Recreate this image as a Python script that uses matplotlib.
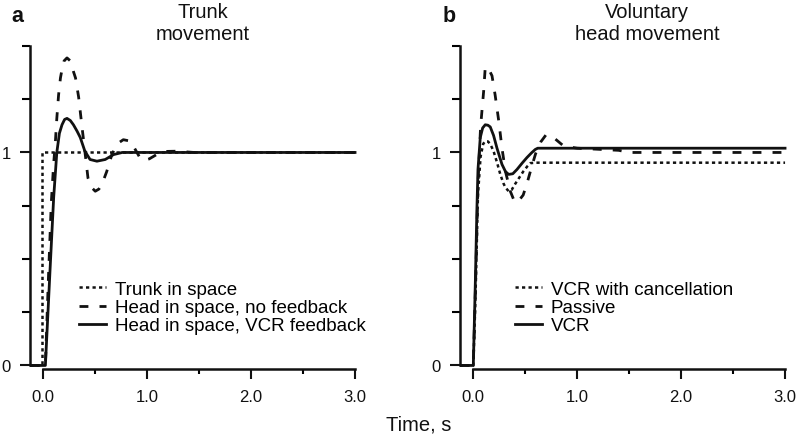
"""
Step response of trunk / head in space - two panel line chart
Output: out.png
"""

import matplotlib
matplotlib.use("Agg")
import matplotlib.pyplot as plt
from matplotlib.ticker import FixedLocator

plt.rcParams["font.family"] = ["Liberation Sans", "DejaVu Sans"]

# Panel a: trunk movement
a_trunk_t = [-0.128, -0.0125, -0.0125, 3.0]
a_trunk_v = [0.0, 0.0, 1.0, 1.0]

a_nofb_t = [-0.128, 0.02, 0.05, 0.077, 0.10, 0.115, 0.13, 0.147, 0.165, 0.18, 0.20,
            0.228, 0.26, 0.29, 0.31, 0.34, 0.37, 0.40, 0.43, 0.468, 0.50, 0.535,
            0.564, 0.61, 0.66, 0.71, 0.77, 0.84, 0.885, 0.93, 0.965, 1.02, 1.09,
            1.19, 1.29, 1.45, 3.0]
a_nofb_v = [0.0, 0.0, 0.42, 0.765, 0.95, 1.04, 1.16, 1.27, 1.35, 1.39, 1.43,
            1.444, 1.43, 1.38, 1.35, 1.26, 1.13, 1.006, 0.88, 0.834, 0.818, 0.828,
            0.85, 0.91, 0.99, 1.04, 1.06, 1.053, 1.014, 0.975, 0.962, 0.97, 0.99,
            1.005, 1.006, 1.0, 1.0]

a_vcr_t = [-0.128, 0.02, 0.065, 0.10, 0.13, 0.155, 0.18, 0.205, 0.228, 0.26, 0.29,
           0.325, 0.356, 0.40, 0.45, 0.516, 0.596, 0.676, 0.76, 3.0]
a_vcr_v = [0.0, 0.0, 0.45, 0.79, 1.0, 1.09, 1.13, 1.155, 1.16, 1.15, 1.13,
           1.10, 1.07, 1.006, 0.967, 0.959, 0.967, 0.99, 1.0, 1.0]

# Panel b: voluntary head movement
b_cancel_t = [-0.128, 0.0, 0.02, 0.045, 0.07, 0.095, 0.115, 0.14, 0.163, 0.195, 0.23,
              0.26, 0.29, 0.31, 0.34, 0.37, 0.40, 0.44, 0.48, 0.52, 0.55, 0.60, 3.0]
b_cancel_v = [0.0, 0.0, 0.3, 0.8, 0.98, 1.04, 1.053, 1.052, 1.04, 1.006, 0.95,
              0.897, 0.855, 0.835, 0.818, 0.825, 0.85, 0.88, 0.91, 0.935, 0.95, 0.952, 0.952]

b_passive_t = [-0.128, 0.0, 0.02, 0.045, 0.07, 0.10, 0.115, 0.14, 0.18, 0.21, 0.245,
               0.276, 0.31, 0.356, 0.40, 0.44, 0.48, 0.52, 0.56, 0.60, 0.65, 0.70,
               0.76, 0.87, 1.0, 1.2, 1.4, 1.5, 3.0]
b_passive_v = [0.0, 0.0, 0.35, 0.85, 1.12, 1.29, 1.40, 1.40, 1.36, 1.27, 1.147,
               1.02, 0.91, 0.818, 0.765, 0.775, 0.80, 0.86, 0.93, 0.995, 1.05, 1.083,
               1.075, 1.03, 1.02, 1.015, 1.01, 1.0, 1.0]

b_vcr_t = [-0.128, 0.0, 0.02, 0.035, 0.045, 0.067, 0.09, 0.115, 0.14, 0.163, 0.195,
           0.228, 0.276, 0.31, 0.34, 0.38, 0.42, 0.47, 0.516, 0.56, 0.596, 0.62, 3.0]
b_vcr_v = [0.0, 0.0, 0.4, 0.74, 0.92, 1.07, 1.115, 1.13, 1.128, 1.12, 1.08,
           1.02, 0.944, 0.91, 0.897, 0.9, 0.92, 0.95, 0.976, 0.998, 1.014, 1.02, 1.02]

x_major = [0.0, 1.0, 2.0, 3.0]
x_minor = [0.5, 1.5, 2.5]
y_major = [0, 1]
y_minor = [0.25, 0.5, 0.75, 1.25, 1.5]

a_labels = ["Trunk in space", "Head in space, no feedback", "Head in space, VCR feedback"]
b_labels = ["VCR with cancellation", "Passive", "VCR"]

INK = "#111111"
DOT = (0, (1.3, 1.3))
DASH = (0, (3.2, 4.0))


def style_axes(ax):
    ax.set_xlim(-0.128, 3.05)
    ax.set_ylim(-0.015, 1.5)
    for side in ("top", "right"):
        ax.spines[side].set_visible(False)
    ax.spines["left"].set_bounds(0, 1.5)
    ax.spines["bottom"].set_bounds(0, 3.0)
    for side in ("left", "bottom"):
        ax.spines[side].set_linewidth(1.8)
        ax.spines[side].set_color(INK)
    ax.xaxis.set_major_locator(FixedLocator(x_major))
    ax.xaxis.set_minor_locator(FixedLocator(x_minor))
    ax.yaxis.set_major_locator(FixedLocator(y_major))
    ax.yaxis.set_minor_locator(FixedLocator(y_minor))
    ax.set_xticklabels([f"{v:.1f}" for v in x_major])
    ax.set_yticklabels([str(v) for v in y_major])
    ax.tick_params(axis="x", which="major", length=7, width=1.5, pad=8,
                   labelsize=12, colors=INK)
    ax.tick_params(axis="x", which="minor", length=3.5, width=1.5)
    ax.tick_params(axis="y", which="major", length=7, width=1.5, pad=7,
                   labelsize=12, colors=INK)
    ax.tick_params(axis="y", which="minor", length=6, width=1.5)


def add_legend(fig, ax, handles, labels, x_px):
    ax.legend(handles, labels, loc="center left",
              bbox_to_anchor=(x_px / 800, 1 - 308.5 / 439),
              bbox_transform=fig.transFigure, frameon=False, borderpad=0,
              borderaxespad=0, handlelength=1.45, handletextpad=0.45,
              labelspacing=0.05, fontsize=13.5)


def main():
    fig = plt.figure(figsize=(8, 4.39), dpi=100, facecolor="white")
    ax_a = fig.add_axes([0.0375, 0.158, 0.4128, 0.735])
    ax_b = fig.add_axes([0.575, 0.158, 0.4128, 0.735])

    # Panel a
    l1, = ax_a.plot(a_trunk_t, a_trunk_v, color=INK, lw=1.8, linestyle=DOT)
    l2, = ax_a.plot(a_nofb_t, a_nofb_v, color=INK, lw=2.0, linestyle=DASH)
    l3, = ax_a.plot(a_vcr_t, a_vcr_v, color=INK, lw=2.0)
    style_axes(ax_a)
    add_legend(fig, ax_a, [l1, l2, l3], a_labels, 79)

    # Panel b
    m1, = ax_b.plot(b_cancel_t, b_cancel_v, color=INK, lw=1.8, linestyle=DOT)
    m2, = ax_b.plot(b_passive_t, b_passive_v, color=INK, lw=2.0, linestyle=DASH)
    m3, = ax_b.plot(b_vcr_t, b_vcr_v, color=INK, lw=2.0)
    style_axes(ax_b)
    add_legend(fig, ax_b, [m1, m2, m3], b_labels, 515)

    # Titles and panel letters
    fig.text(203 / 800, 1 - 24 / 439, "Trunk\nmovement", ha="center", va="center",
             multialignment="center", fontsize=14.5, linespacing=1.2, color=INK)
    fig.text(647 / 800, 1 - 24 / 439, "Voluntary\nhead movement", ha="center",
             va="center", multialignment="center", fontsize=14.5, linespacing=1.2,
             color=INK)
    fig.text(17.5 / 800, 1 - 17 / 439, "a", ha="center", va="center",
             fontsize=15.5, fontweight="bold", color=INK)
    fig.text(449 / 800, 1 - 17 / 439, "b", ha="center", va="center",
             fontsize=15.5, fontweight="bold", color=INK)
    fig.text(419 / 800, 1 - 425 / 439, "Time, s", ha="center", va="center",
             fontsize=14.5, color=INK)

    fig.savefig("out.png", dpi=100, facecolor="white")
    plt.close(fig)


if __name__ == "__main__":
    main()
